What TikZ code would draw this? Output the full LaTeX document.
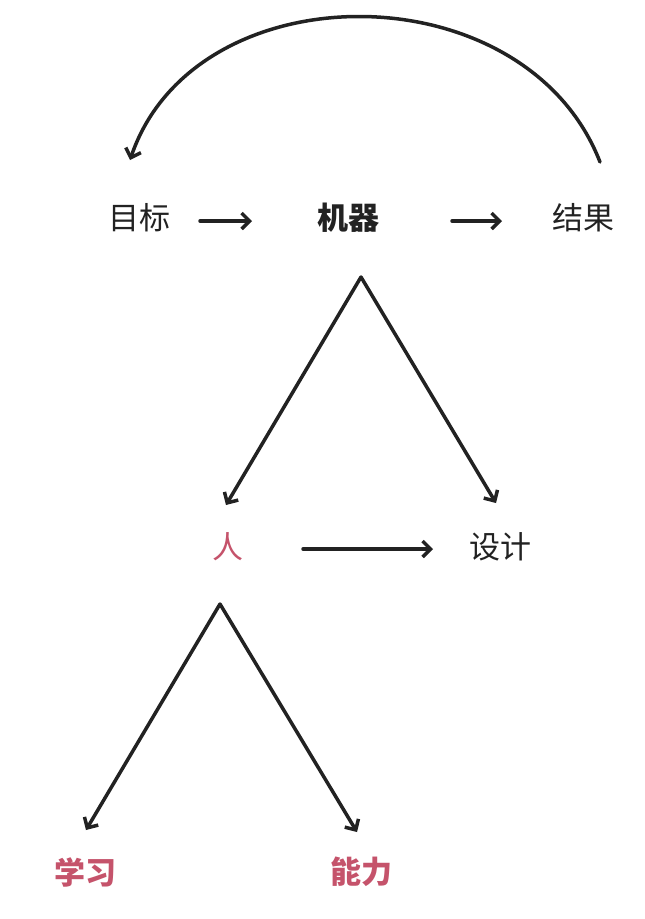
\documentclass[tikz,border=0pt]{standalone}
\usepackage{fontspec}
\setmainfont{Noto Sans CJK SC}
\usetikzlibrary{arrows.meta}
\definecolor{ink}{HTML}{222222}
\definecolor{rosy}{HTML}{C5536B}
\begin{document}
\begin{tikzpicture}[x=1pt,y=-1pt,
  lbl/.style={font=\fontsize{31}{31}\selectfont, text=ink, inner sep=0pt},
  rlbl/.style={lbl, text=rosy},
  conn/.style={draw=ink, line width=3.5pt, line cap=round, -{Straight Barb[length=8pt,width=16pt,line width=3.5pt]}}
]
\useasboundingbox[fill=white] (0,0) rectangle (645,919);
\node[lbl] (goal) at (139,218) {目标};
\node[lbl,font=\fontsize{31}{31}\selectfont\bfseries] (mach) at (348,218) {机器};
\node[lbl] (res) at (583,218) {结果};
\node[rlbl] (ren) at (228,547) {人};
\node[lbl] (des) at (500,547) {设计};
\node[rlbl,font=\fontsize{31}{31}\selectfont\bfseries] (learn) at (85,872) {学习};
\node[rlbl,font=\fontsize{31}{31}\selectfont\bfseries] (abil) at (361,872) {能力};

\coordinate (a1s) at (200,221); \coordinate (a1e) at (252,221);
\coordinate (a2s) at (452,221); \coordinate (a2e) at (502,221);
\coordinate (arcS) at (600,162); \coordinate (arcE) at (130,160);
\coordinate (mApex) at (361,277);
\coordinate (mL) at (226,505); \coordinate (mR) at (496,503);
\coordinate (rs) at (303,549); \coordinate (re) at (433,549);
\coordinate (pApex) at (220,604);
\coordinate (pL) at (86,830); \coordinate (pR) at (357,832);

\draw[conn] (a1s) -- (a1e);
\draw[conn] (a2s) -- (a2e);
\draw[conn] (arcS) .. controls (525,-31) and (195,-31) .. (arcE);
\draw[conn] (mApex) -- (mL);
\draw[conn] (mApex) -- (mR);
\draw[conn] (rs) -- (re);
\draw[conn] (pApex) -- (pL);
\draw[conn] (pApex) -- (pR);
\end{tikzpicture}
\end{document}
